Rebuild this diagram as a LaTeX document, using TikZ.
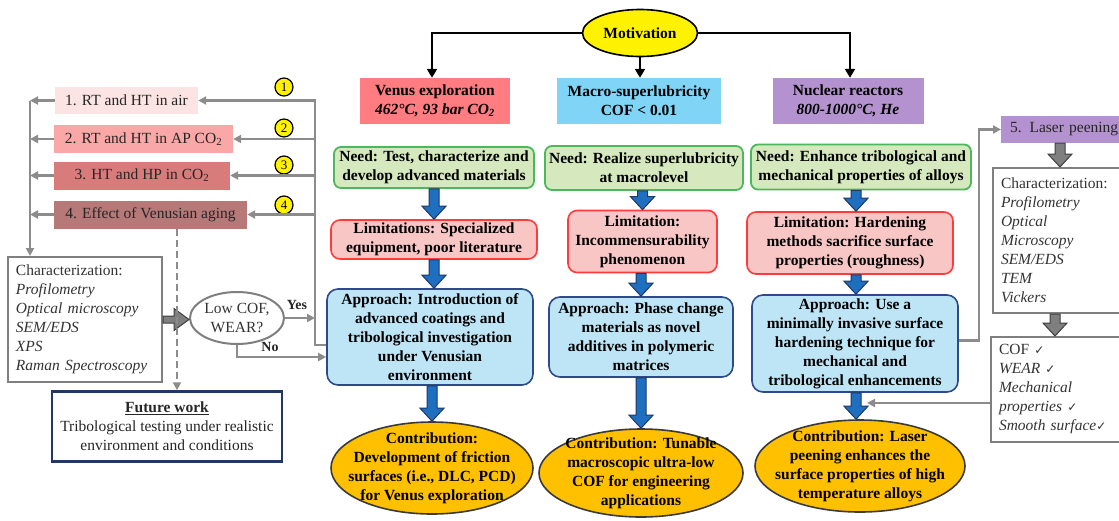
\documentclass[tikz,border=0pt]{standalone}
\usepackage{fontspec}
\setmainfont{Liberation Serif}
\newfontfamily\dejavu{DejaVu Sans}
\usetikzlibrary{shapes.geometric,arrows.meta,calc}
\definecolor{venusf}{HTML}{FF7C80}
\definecolor{macrof}{HTML}{80D4F6}
\definecolor{nuclf}{HTML}{B392CF}
\definecolor{needf}{HTML}{D5E8BE}
\definecolor{needb}{HTML}{4CB85C}
\definecolor{limf}{HTML}{F9C6C6}
\definecolor{limb}{HTML}{FF3B3B}
\definecolor{appf}{HTML}{BEE5F6}
\definecolor{appb}{HTML}{2F4A8A}
\definecolor{conf}{HTML}{FFC000}
\definecolor{conb}{HTML}{3A3A3A}
\definecolor{bluea}{HTML}{1F6FC1}
\definecolor{blueb}{HTML}{1F3864}
\definecolor{boxa}{HTML}{FCE4E4}
\definecolor{boxb}{HTML}{F9A7A7}
\definecolor{boxc}{HTML}{D87B7B}
\definecolor{boxd}{HTML}{B77878}
\definecolor{grayl}{HTML}{8C8C8C}
\definecolor{grayb}{HTML}{7F7F7F}
\definecolor{grayfat}{HTML}{7F7F7F}
\definecolor{grayfatb}{HTML}{404040}
\definecolor{futb}{HTML}{1F3864}
\newcommand{\chk}{{\dejavu\fontsize{12}{12}\selectfont\char"2713}}
% vertical fat arrow: style, start, end (x taken from end)
\newcommand{\vfat}[3]{%
  \path[#1] let \p1=(#2), \p2=(#3) in
   (\x2-5pt,\y1) -- (\x2+5pt,\y1) -- (\x2+5pt,\y2+13pt) -- (\x2+12pt,\y2+13pt)
   -- (\x2,\y2) -- (\x2-12pt,\y2+13pt) -- (\x2-5pt,\y2+13pt) -- cycle;}
% horizontal fat arrow: style, start, end (y taken from start)
\newcommand{\hfat}[3]{%
  \path[#1] let \p1=(#2), \p2=(#3) in
   (\x1,\y1+3.5pt) -- (\x2-15pt,\y1+3.5pt) -- (\x2-15pt,\y1+11pt) -- (\x2,\y1)
   -- (\x2-15pt,\y1-11pt) -- (\x2-15pt,\y1-3.5pt) -- (\x1,\y1-3.5pt) -- cycle;}
\tikzset{
  fnt/.style={font=\fontsize{15.5}{19}\selectfont},
  bfnt/.style={font=\fontsize{15.5}{19}\selectfont\bfseries},
  gline/.style={draw=grayl, line width=2.2pt},
  garr/.style={gline, -{Triangle[length=8pt,width=8pt]}},
  barr/.style={draw=black, line width=2.4pt, -{Triangle[length=9pt,width=10pt]}},
  hdr/.style={rectangle, inner sep=0pt, align=center, bfnt},
  needbox/.style={rectangle, rounded corners=7pt, draw=needb, fill=needf, line width=1.8pt, inner sep=0pt, align=center, bfnt},
  limbox/.style={rectangle, rounded corners=9pt, draw=limb, fill=limf, line width=1.6pt, inner sep=0pt, align=center, bfnt},
  appbox/.style={rectangle, rounded corners=11pt, draw=appb, fill=appf, line width=1.6pt, inner sep=0pt, align=center, bfnt},
  conell/.style={ellipse, draw=conb, fill=conf, line width=1.6pt, inner sep=0pt},
  contxt/.style={inner sep=0pt, align=center, bfnt},
  lbox/.style={rectangle, inner sep=0pt, fnt, text=black!85},
  cbox/.style={rectangle, draw=grayb, line width=2pt, fill=white, inner xsep=8pt, inner ysep=0pt, align=left, fnt, text=black!80},
  circnum/.style={circle, draw=black, fill=yellow, line width=1.2pt, inner sep=0pt, minimum size=18pt, font=\fontsize{13}{13}\selectfont},
  bfat/.style={fill=bluea, draw=blueb, line width=1pt},
  gfat/.style={fill=grayfat, draw=grayfatb, line width=1pt},
  lbl/.style={inner sep=0pt, font=\fontsize{14}{14}\selectfont\bfseries, text=black!85}
}
\begin{document}
\begin{tikzpicture}[x=1pt,y=-1pt]
\useasboundingbox (0,0) rectangle (1119,520);
\clip (0,0) rectangle (1119,520);
\fill[white] (0,0) rectangle (1119,520);

% ---- top
\node[ellipse, draw=black, fill=yellow, line width=1.6pt, inner sep=0pt, minimum width=115pt, minimum height=47pt, bfnt] (mot) at (640,33) {Motivation};
\node[hdr, fill=venusf, minimum width=150pt, minimum height=46pt] (venus) at (435,101)
  {Venus exploration\\\textit{462°C, 93 bar CO\textsubscript{2}}};
\node[hdr, fill=macrof, minimum width=164pt, minimum height=46pt] (macro) at (639,101)
  {Macro-superlubricity\\COF < 0.01};
\node[hdr, fill=nuclf, minimum width=151pt, minimum height=46pt] (nucl) at (848,101)
  {Nuclear reactors\\\textit{800-1000°C, He}};
\draw[barr] (mot.west) -| ($(venus.north)+(-3,0)$);
\draw[barr] (mot.south) -- (mot.south |- macro.north);
\draw[barr] (mot.east) -| ($(nucl.north)+(2,0)$);

% ---- need
\node[needbox, minimum width=200pt, minimum height=41pt] (vneed) at (434,167.5)
  {Need: Test, characterize and\\develop advanced materials};
\node[needbox, minimum width=198pt, minimum height=44pt] (mneed) at (644,168)
  {Need: Realize superlubricity\\at macrolevel};
\node[needbox, minimum width=220pt, minimum height=45pt] (nneed) at (861,167)
  {Need: Enhance tribological and\\mechanical properties of alloys};

% ---- limitations
\node[limbox, minimum width=206pt, minimum height=39pt] (vlim) at (434,239.5)
  {Limitations: Specialized\\equipment, poor literature};
\node[limbox, minimum width=149pt, minimum height=62pt] (mlim) at (642.5,241.5)
  {Limitation:\\Incommensurability\\phenomenon};
\node[limbox, minimum width=206pt, minimum height=62pt] (nlim) at (850,243)
  {Limitation: Hardening\\methods sacrifice surface\\properties (roughness)};

% ---- approach
\node[appbox, minimum width=206pt, minimum height=96pt] (vapp) at (430,337)
  {Approach: Introduction of\\advanced coatings and\\tribological investigation\\under Venusian\\environment};
\node[appbox, minimum width=184pt, minimum height=80pt] (mapp) at (641,337)
  {Approach: Phase change\\materials as novel\\additives in polymeric\\matrices};
\node[appbox, minimum width=206pt, minimum height=97pt] (napp) at (855,343.5)
  {Approach: Use a\\minimally invasive surface\\hardening technique for\\mechanical and\\tribological enhancements};

% ---- contributions
\node[conell, minimum width=202pt, minimum height=92pt] (vcon) at (432,468) {};
\node[contxt] (vcont) at (vcon.center) {Contribution:\\Development of friction\\surfaces (i.e., DLC, PCD)\\for Venus exploration};
\node[conell, minimum width=204pt, minimum height=88pt] (mcon) at (641,473) {};
\node[contxt] (mcont) at (mcon.center) {Contribution: Tunable\\macroscopic ultra-low\\COF for engineering\\applications};
\node[conell, minimum width=210pt, minimum height=92pt] (ncon) at (860,466) {};
\node[contxt] (ncont) at (ncon.center) {Contribution: Laser\\peening enhances the\\surface properties of high\\temperature alloys};

% ---- blue fat arrows
\vfat{bfat}{vneed.south}{vlim.north}
\vfat{bfat}{vlim.south}{vlim.north |- vapp.north}
\vfat{bfat}{vapp.south}{vcon.north}
\vfat{bfat}{mneed.south}{mlim.north}
\vfat{bfat}{mlim.south}{mapp.north}
\vfat{bfat}{mapp.south}{mcon.north}
\coordinate (nx) at (856,0);
\vfat{bfat}{nneed.south}{nx |- nlim.north}
\vfat{bfat}{nlim.south}{nx |- napp.north}
\vfat{bfat}{napp.south}{nx |- ncon.north}

% ---- left side
\node[lbox, fill=boxa, minimum width=143pt, minimum height=27pt] (b1) at (126.5,100.5) {1. RT and HT in air};
\node[lbox, fill=boxb, minimum width=179pt, minimum height=28pt] (b2) at (143.5,139) {2. RT and HT in AP CO\textsubscript{2}};
\node[lbox, fill=boxc, minimum width=176pt, minimum height=28pt] (b3) at (142,175.5) {3. HT and HP in CO\textsubscript{2}};
\node[lbox, fill=boxd, minimum width=193pt, minimum height=28pt] (b4) at (150.5,214.5) {4. Effect of Venusian aging};

\node[circnum] (c1) at (284,87) {1};
\node[circnum] (c2) at (284,128) {2};
\node[circnum] (c3) at (284,165) {3};
\node[circnum] (c4) at (284,205) {4};

\node[cbox, minimum width=154pt, minimum height=125pt, text width=138pt] (lchar) at (85,319.5)
  {Characterization:\\\textit{Profilometry}\\\textit{Optical microscopy}\\\textit{SEM/EDS}\\\textit{XPS}\\\textit{Raman Spectroscopy}};
\node[ellipse, draw=grayb, line width=2pt, fill=white, inner sep=0pt, minimum width=94pt, minimum height=52pt, align=center, fnt, text=black!80] (ell) at (237,318) {Low COF,\\WEAR?};
\node[rectangle, draw=futb, line width=2.5pt, fill=white, inner sep=0pt, minimum width=230pt, minimum height=70pt, align=center, fnt, text=black!85] (fut) at (167,426.5)
  {\textbf{\underline{Future work}}\\Tribological testing under realistic\\environment and conditions};

\coordinate (lx) at (30,0);
\coordinate (rx) at (315,0);
\coordinate (dx) at (177,0);
% left collector line
\draw[garr] (b1.west) -- (b1.west -| lx);
\draw[garr] (b2.west) -- (b2.west -| lx);
\draw[garr] (b3.west) -- (b3.west -| lx);
\draw[garr] (b4.west) -- (b4.west -| lx);
\draw[garr] (b1.west -| lx) -- (lx |- lchar.north);
% right feedback line
\draw[garr] ($(vapp.west)+(0,8)$) -| (rx |- b1.east) -- (b1.east);
\draw[garr] (rx |- b2.east) -- (b2.east);
\draw[garr] (rx |- b3.east) -- (b3.east);
\draw[garr] (rx |- b4.east) -- (b4.east);
% characterization -> decision
\hfat{gfat}{lchar.east}{ell.west}
\draw[garr] (ell.east) -- (rx |- ell.east);
\node[lbl] (yes) at (297,305) {Yes};
\draw[garr] (ell.south) |- ($(vapp.west)+(0,20)$);
\node[lbl] (no) at (270,347) {No};
% dashed to future work
\draw[garr, dashed, dash pattern=on 7pt off 4pt] (b4.south -| dx) -- (dx |- fut.north);

% ---- right side
\node[lbox, fill=nuclf, minimum height=27pt, anchor=west, inner xsep=9pt, align=left, text width=130pt] (laser) at (1001,129.5) {5. Laser peening};
\node[cbox, minimum width=137pt, minimum height=145pt, text width=121pt] (rchar) at (1061.5,240.5)
  {Characterization:\\\textit{Profilometry}\\\textit{Optical}\\\textit{Microscopy}\\\textit{SEM/EDS}\\\textit{TEM}\\\textit{Vickers}};
\node[cbox, minimum width=139pt, minimum height=105pt, text width=123pt] (rres) at (1060.5,389.5)
  {COF \chk\\\textit{WEAR} \chk\\\textit{Mechanical}\\\textit{properties} \chk\\\textit{Smooth surface}\chk};
\draw[garr] ($(napp.east)+(0,-3)$) -- ++(20,0) |- (laser.west);
\coordinate (gx) at (1060,0);
\coordinate (gx2) at (1055,0);
\vfat{gfat}{gx |- laser.south}{gx |- rchar.north}
\vfat{gfat}{gx2 |- rchar.south}{gx2 |- rres.north}
\coordinate (tipn) at (867,403);
\draw[garr] (rres.west |- tipn) -- (tipn);
\end{tikzpicture}
\end{document}
